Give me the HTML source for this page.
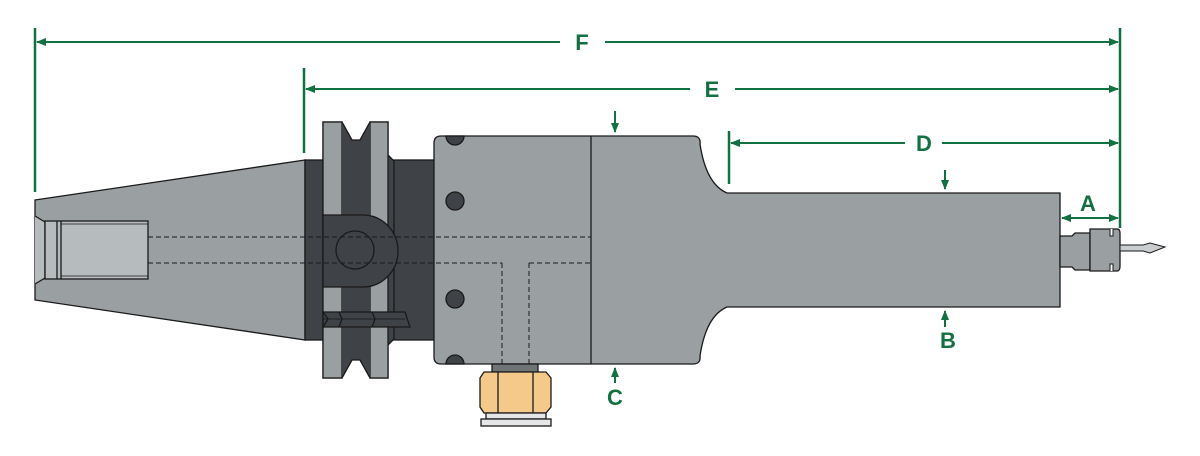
<!DOCTYPE html>
<html><head><style>body{margin:0;background:#fff}svg{display:block}</style></head><body>
<svg width="1200" height="456" viewBox="0 0 1200 456" xmlns="http://www.w3.org/2000/svg">
<defs>
<marker id="ar" markerWidth="10" markerHeight="8" refX="9" refY="4" orient="auto" markerUnits="userSpaceOnUse"><path d="M0,0 L10,4 L0,8 Z" fill="#137040"/></marker>
</defs>
<g stroke="#1a1a1a" stroke-width="1.3">
<path d="M35,200 L305,160 L305,340 L35,300 Z" fill="#9aa0a2"/>
<path d="M35,216 L45,222 L45,278 L35,284" fill="#b6bbbd"/>
<rect x="45" y="221" width="103" height="58" fill="#b6bbbd"/>
<line x1="57" y1="221" x2="57" y2="279"/><line x1="61" y1="221" x2="61" y2="279"/>
<line x1="61" y1="224" x2="148" y2="224" stroke-width="0.8"/><line x1="61" y1="276" x2="148" y2="276" stroke-width="0.8"/>
<rect x="305" y="160" width="132" height="180" fill="#3f4246"/>
<path d="M323,122 L342,122 L352,140 L360,140 L370,122 L388,122 L388,155 L394,161 L394,339 L388,345 L388,378 L370,378 L360,360 L352,360 L342,378 L323,378 Z" fill="#3f4246"/>
<rect x="323" y="122" width="19" height="256" fill="#9aa0a2"/>
<rect x="370" y="122" width="18" height="256" fill="#9aa0a2"/>
<rect x="342" y="122" width="28" height="256" fill="#3f4246" stroke="none"/>
<path d="M342,122 L352,140 L360,140 L370,122 M342,378 L352,360 L360,360 L370,378" fill="#fff"/>
<path d="M323,215 L363,215 A35,36 0 0 1 363,287 L323,287 Z" fill="#3f4246"/>
<circle cx="355" cy="250" r="19" fill="#3f4246"/>
<path d="M323,312 L405,312 L410,327 L323,327 Z" fill="#3f4246"/>
<path d="M323,312 L328,319 L323,327 M339,312 L342,319 L339,327 M372,312 L375,319 L372,327" fill="none"/>
<line x1="323" y1="319" x2="405" y2="319" stroke-width="0.8"/>
<path d="M441,136 L693,136 Q701,136 700,144 Q706,184 727,193 L1060,193 L1060,307 L727,307 Q706,316 700,356 Q701,364 693,364 L441,364 Q434,364 434,357 L434,143 Q434,136 441,136 Z" fill="#9aa0a2"/>
<line x1="591" y1="136" x2="591" y2="364"/>
<g fill="#3f4246">
<path d="M446,136 A9,9 0 0 0 464,136 Z"/>
<circle cx="455" cy="201" r="9"/><circle cx="455" cy="299" r="9"/>
<path d="M446,364 A9,9 0 0 1 464,364 Z"/>
</g>
<g stroke-dasharray="5,3" stroke-width="1" fill="none">
<line x1="148" y1="237" x2="591" y2="237"/>
<line x1="148" y1="263" x2="502" y2="263"/>
<line x1="529" y1="263" x2="591" y2="263"/>
<line x1="502" y1="263" x2="502" y2="364"/>
<line x1="529" y1="263" x2="529" y2="364"/>
</g>
<rect x="492" y="364" width="46" height="8" fill="#6f7477"/>
<path d="M484,372 L546,372 L551,378 L551,407 L546,413 L484,413 L480,407 L480,378 Z" fill="#f5c98a"/>
<line x1="498" y1="372" x2="498" y2="413"/><line x1="533" y1="372" x2="533" y2="413"/>
<rect x="486" y="413" width="60" height="6" fill="#e4e6e7"/>
<rect x="481" y="419" width="70" height="7" fill="#e4e6e7"/>
<path d="M1060,236 L1072,236 L1075,233 L1090,233 L1090,270 L1075,270 L1072,267 L1060,267 Z" fill="#9aa0a2"/>
<path d="M1090,229 L1117,229 Q1120,229 1120,233 L1120,266 Q1120,271 1117,271 L1090,271 Z" fill="#9aa0a2"/>
<path d="M1110,229 L1110,236 L1113,236 L1113,229 M1110,271 L1110,264 L1113,264 L1113,271" fill="#fff" stroke-width="1"/>
<path d="M1120,245 L1143,245 L1150,243 L1165,247 L1150,253 L1143,251 L1120,251 Z" fill="#c9cdcf" stroke-width="1"/>
</g>
<g stroke="#137040" stroke-width="2.5" fill="none">
<line x1="35" y1="28" x2="35" y2="192"/>
<line x1="1120" y1="28" x2="1120" y2="228"/>
<line x1="304" y1="68" x2="304" y2="153"/>
<line x1="729" y1="131" x2="729" y2="184"/>
</g>
<g stroke="#137040" stroke-width="2" fill="none" marker-end="url(#ar)">
<line x1="560" y1="42" x2="37" y2="42"/><line x1="605" y1="42" x2="1118" y2="42"/>
<line x1="690" y1="89" x2="306" y2="89"/><line x1="735" y1="89" x2="1118" y2="89"/>
<line x1="905" y1="143" x2="731" y2="143"/><line x1="942" y1="143" x2="1118" y2="143"/>
<line x1="1090" y1="218" x2="1062" y2="218"/><line x1="1090" y1="218" x2="1118" y2="218"/>
<line x1="615" y1="111" x2="615" y2="132"/><line x1="615" y1="383" x2="615" y2="368"/>
<line x1="945" y1="170" x2="945" y2="189"/><line x1="945" y1="327" x2="945" y2="311"/>
</g>
<g fill="#137040" font-family="Liberation Sans, sans-serif" font-weight="bold" font-size="22" text-anchor="middle">
<text x="582" y="50">F</text><text x="712" y="97">E</text><text x="924" y="151">D</text>
<text x="1088" y="211">A</text><text x="948" y="348">B</text><text x="615" y="405">C</text>
</g>
</svg>
</body></html>
